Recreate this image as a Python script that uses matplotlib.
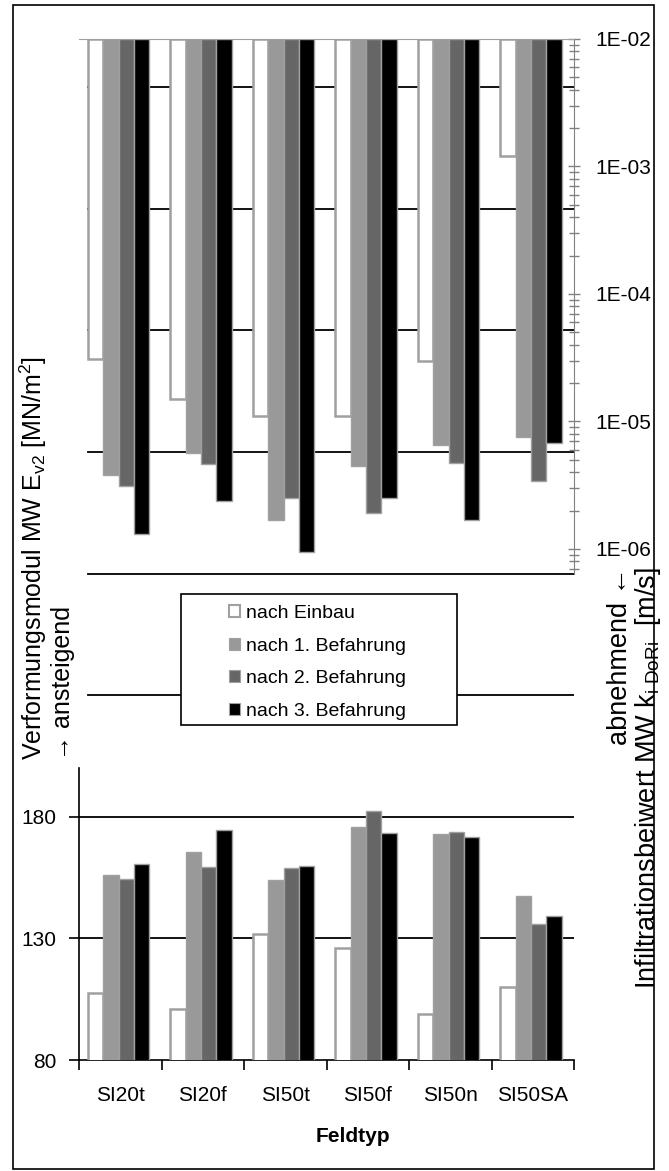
import numpy as np
import matplotlib
matplotlib.use("Agg")
import matplotlib.pyplot as plt
from matplotlib.patches import Patch, Rectangle
from matplotlib.ticker import LogLocator, FuncFormatter, NullFormatter

plt.rcParams['font.family'] = ['Liberation Sans', 'DejaVu Sans']
plt.rcParams['mathtext.fontset'] = 'custom'
plt.rcParams['mathtext.rm'] = 'Liberation Sans'
plt.rcParams['mathtext.it'] = 'Liberation Sans:italic'

categories = ["SI20t", "SI20f", "SI50t", "SI50f", "SI50n", "SI50SA"]
series = ["nach Einbau", "nach 1. Befahrung", "nach 2. Befahrung", "nach 3. Befahrung"]

# Verformungsmodul Ev2 [MN/m2]
ev2_einbau = [107.7, 101.0, 131.7, 126.2, 98.8, 109.9]
ev2_bef1 = [156.0, 165.6, 153.9, 175.9, 173.0, 147.4]
ev2_bef2 = [154.3, 159.3, 158.8, 182.5, 173.8, 135.9]
ev2_bef3 = [160.4, 174.5, 159.7, 173.4, 171.5, 139.2]

# Infiltrationsbeiwert k [m/s]
k_einbau = [3.1e-5, 1.5e-5, 1.1e-5, 1.1e-5, 3.0e-5, 1.2e-3]
k_bef1 = [3.8e-6, 5.7e-6, 1.7e-6, 4.5e-6, 6.6e-6, 7.6e-6]
k_bef2 = [3.1e-6, 4.6e-6, 2.5e-6, 1.9e-6, 4.7e-6, 3.4e-6]
k_bef3 = [1.3e-6, 2.4e-6, 9.5e-7, 2.5e-6, 1.7e-6, 6.8e-6]

colors = ['white', '#999999', '#666666', '#000000']
edge = '#a0a0a0'

W, H = 669, 1171


def fx(px):
    return px / W


def fy(py):
    return 1 - py / H


fig = plt.figure(figsize=(W / 100, H / 100), dpi=100)

# primary axis (linear, whole height)
ax = fig.add_axes([fx(79), fy(1060), fx(574) - fx(79), fy(38.6) - fy(1060)])
x = np.arange(len(categories))
w = 0.186
ev2 = [ev2_einbau, ev2_bef1, ev2_bef2, ev2_bef3]
for i, vals in enumerate(ev2):
    lw = 1.8 if i == 0 else 1.0
    ax.bar(x + (i - 1.5) * w - 0.02, vals, w, color=colors[i], edgecolor=edge, lw=lw, zorder=3)

ax.set_xlim(-0.5, 5.5)
ax.set_ylim(80, 500)
for v in range(130, 500, 50):
    ax.axhline(v, xmin=0 if v < 200 else 0.018, color='black', lw=1.3, zorder=1)
ax.set_yticks([80, 130, 180])
ax.tick_params(axis='y', length=7, width=1.2, labelsize=15, pad=9)
ax.set_xticks(x)
ax.set_xticklabels(categories)
ax.set_xticks(np.arange(-0.5, 6, 1), minor=True)
ax.tick_params(axis='x', which='major', length=0, labelsize=15, pad=19)
ax.tick_params(axis='x', which='minor', length=7, width=1.2)
for s in ['top', 'right']:
    ax.spines[s].set_visible(False)
ax.spines['left'].set_bounds(80, 200)
ax.spines['left'].set_linewidth(1.2)
ax.spines['bottom'].set_linewidth(1.2)

# secondary axis (log, hanging bars, upper part)
ax2 = fig.add_axes([fx(79), fy(574), fx(574) - fx(79), fy(39) - fy(574)])
ax2.set_facecolor('none')
top = 1e-2
kvals = [k_einbau, k_bef1, k_bef2, k_bef3]
for i, vals in enumerate(kvals):
    lw = 1.8 if i == 0 else 1.0
    vals = np.array(vals)
    ax2.bar(x + (i - 1.5) * w - 0.02, vals - top, w, bottom=top, color=colors[i],
            edgecolor=edge, lw=lw, zorder=3)
ax2.set_xlim(-0.5, 5.5)
ax2.set_yscale('log')
ax2.set_ylim(10 ** (-2 - 535 / 127.5), top)
ax2.yaxis.tick_right()
ax2.yaxis.set_major_locator(LogLocator(base=10))
ax2.yaxis.set_minor_locator(LogLocator(base=10, subs=np.arange(2, 10)))
ax2.yaxis.set_major_formatter(FuncFormatter(lambda v, p: '{:.0E}'.format(v)))
ax2.yaxis.set_minor_formatter(NullFormatter())
ax2.tick_params(axis='y', which='major', direction='inout', length=9, width=1,
                color='#808080', labelsize=15, pad=11)
ax2.tick_params(axis='y', which='minor', direction='inout', length=7, width=1,
                color='#808080')
ax2.set_xticks([])
for s in ['left', 'bottom']:
    ax2.spines[s].set_visible(False)
ax2.spines['right'].set_color('#808080')
ax2.spines['top'].set_color('#a0a0a0')

# axis titles
fig.text(fx(46), fy(760), "Verformungsmodul MW E$_{\\mathrm{v2}}$ [MN/m$^{\\mathrm{2}}$]\n\u2192 ansteigend",
         rotation=90, ha='center', va='bottom', multialignment='left', fontsize=18,
         linespacing=1.1)
fig.text(fx(635), fy(567), "abnehmend \u2190\nInfiltrationsbeiwert MW k$_{\\mathrm{i\\ DoRi}}$  [m/s]",
         rotation=90, ha='center', va='top', multialignment='right', fontsize=19.5,
         linespacing=1.0)
fig.text(fx(353), fy(1137), "Feldtyp", ha='center', va='center', fontsize=15,
         fontweight='bold')

# legend with its own box
fig.add_artist(Rectangle((fx(181), fy(725)), fx(457) - fx(181), fy(594) - fy(725),
                         transform=fig.transFigure, facecolor='white', edgecolor='black',
                         lw=1.2, zorder=1))
handles = [Patch(facecolor=colors[i], edgecolor=edge, lw=1.5 if i == 0 else 0.8)
           for i in range(4)]
fig.legend(handles, series, loc='upper left', bbox_to_anchor=(fx(229), fy(605)),
           frameon=False, fontsize=14, handlelength=0.55, handleheight=0.55,
           handletextpad=0.3, labelspacing=0.8, borderpad=0, borderaxespad=0)

# outer frame
fig.add_artist(Rectangle((fx(12.5), fy(1169)), fx(654) - fx(12.5), fy(5) - fy(1169),
                         transform=fig.transFigure, fill=False, edgecolor='black',
                         lw=1.2, zorder=10))

fig.savefig('out.png', dpi=100)
